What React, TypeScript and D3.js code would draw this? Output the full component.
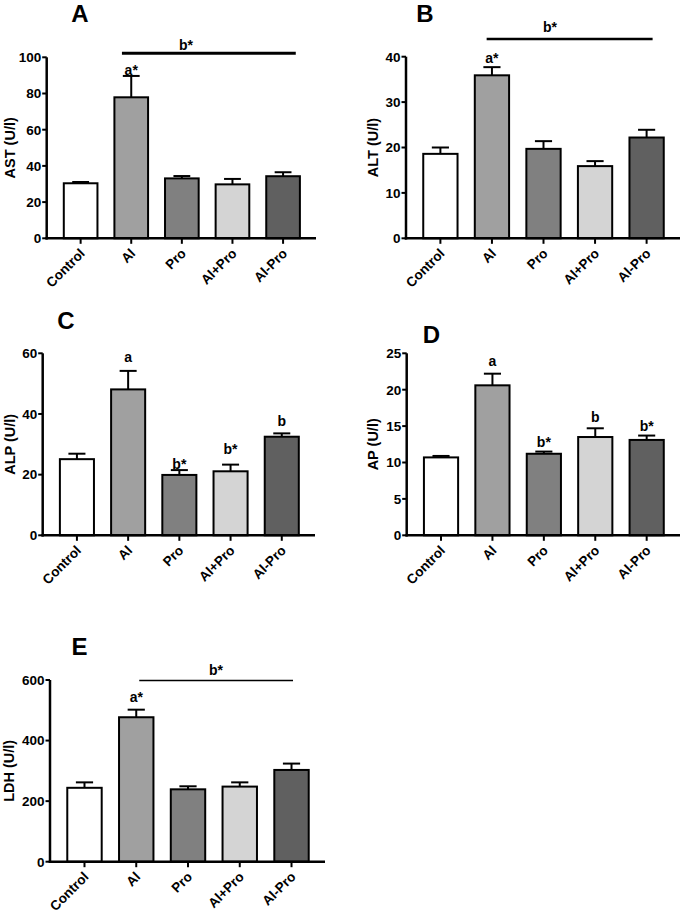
import React from "react";
import * as d3 from "d3";

const groups = ["Control", "Al", "Pro", "Al+Pro", "Al-Pro"];
const fills = ["#ffffff", "#a0a0a0", "#808080", "#d4d4d4", "#606060"];

const astMean = [30.4, 77.9, 33.1, 29.8, 34.3];
const astErr = [0.7, 11.8, 1.3, 3.0, 2.2];
const astSig = ["", "a*", "", "", ""];
const astTicks = [0, 20, 40, 60, 80, 100];

const altMean = [18.6, 35.9, 19.7, 15.9, 22.2];
const altErr = [1.4, 1.8, 1.7, 1.1, 1.7];
const altSig = ["", "a*", "", "", ""];
const altTicks = [0, 10, 20, 30, 40];

const alpMean = [25.1, 48.1, 19.9, 21.1, 32.5];
const alpErr = [1.8, 6.1, 1.6, 2.2, 1.1];
const alpSig = ["", "a", "b*", "b*", "b"];
const alpTicks = [0, 20, 40, 60];

const apMean = [10.7, 20.6, 11.2, 13.5, 13.1];
const apErr = [0.2, 1.6, 0.3, 1.2, 0.6];
const apSig = ["", "a", "b*", "b", "b*"];
const apTicks = [0, 5, 10, 15, 20, 25];

const ldhMean = [244, 477, 239, 248, 303];
const ldhErr = [18, 25, 10, 14, 21];
const ldhSig = ["", "a*", "", "", ""];
const ldhTicks = [0, 200, 400, 600];

type Panel = {
  letter: string;
  title: string;
  mean: number[];
  err: number[];
  sig: string[];
  ticks: number[];
  max: number;
  axisX: number;
  axisEnd: number;
  yTop: number;
  y0: number;
  letterX: number;
  letterY: number;
  titleX: number;
  sigGap: number[];
  bracket?: { value: number; x0: number; x1: number; width: number; labelDy: number; labelX: number };
};

const panels: Panel[] = [
  {
    letter: "A", title: "AST (U/l)", mean: astMean, err: astErr, sig: astSig, ticks: astTicks, max: 100,
    axisX: 46.7, axisEnd: 316, yTop: 57.3, y0: 238.3, letterX: 80, letterY: 22, titleX: 15,
    sigGap: [0, 1, 0, 0, 0],
    bracket: { value: 102.2, x0: -9.3, x1: 12.7, width: 3, labelDy: -3, labelX: 186 },
  },
  {
    letter: "B", title: "ALT (U/l)", mean: altMean, err: altErr, sig: altSig, ticks: altTicks, max: 40,
    axisX: 406, axisEnd: 680, yTop: 56.7, y0: 238.3, letterX: 425, letterY: 22, titleX: 378,
    sigGap: [0, 4, 0, 0, 0],
    bracket: { value: 43.9, x0: -5.3, x1: 6, width: 2.5, labelDy: -7, labelX: 550 },
  },
  {
    letter: "C", title: "ALP (U/l)", mean: alpMean, err: alpErr, sig: alpSig, ticks: alpTicks, max: 60,
    axisX: 42.7, axisEnd: 315, yTop: 353.3, y0: 535.3, letterX: 66, letterY: 329, titleX: 15,
    sigGap: [0, 9.3, 1, 10.7, 7.3],
  },
  {
    letter: "D", title: "AP (U/l)", mean: apMean, err: apErr, sig: apSig, ticks: apTicks, max: 25,
    axisX: 406.7, axisEnd: 680, yTop: 353.3, y0: 535.3, letterX: 431.5, letterY: 343, titleX: 378,
    sigGap: [0, 7.3, 4.6, 6.3, 4.7],
  },
  {
    letter: "E", title: "LDH (U/l)", mean: ldhMean, err: ldhErr, sig: ldhSig, ticks: ldhTicks, max: 600,
    axisX: 50, axisEnd: 325, yTop: 680, y0: 861.7, letterX: 79.5, letterY: 655, titleX: 14,
    sigGap: [0, 8, 0, 0, 0],
    bracket: { value: 598, x0: 3, x1: 1.5, width: 1.5, labelDy: -6, labelX: 216 },
  },
];

const FONT = "'Liberation Sans', Arial, Helvetica, sans-serif";

function PanelChart({ p }: { p: Panel }) {
  const y = d3.scaleLinear().domain([0, p.max]).range([p.y0, p.yTop]);
  const x = d3
    .scaleBand<string>()
    .domain(groups)
    .range([p.axisX + 9, p.axisEnd - 8])
    .paddingInner(0.335)
    .paddingOuter(0.16);
  const bw = x.bandwidth();
  const cx = (g: string) => (x(g) as number) + bw / 2;
  const midY = (p.y0 + p.yTop) / 2;

  return (
    <g fontFamily={FONT} fontWeight="bold">
      <text x={p.letterX} y={p.letterY} fontSize={24} textAnchor="middle">
        {p.letter}
      </text>
      <text
        transform={`translate(${p.titleX},${midY}) rotate(-90)`}
        fontSize={14.5}
        textAnchor="middle"
      >
        {p.title}
      </text>
      {groups.map((g, i) => {
        const top = y(p.mean[i]);
        const et = y(p.mean[i] + p.err[i]);
        return (
          <g key={g}>
            <line x1={cx(g)} x2={cx(g)} y1={top} y2={et} stroke="#000" strokeWidth={2} />
            <line x1={cx(g) - bw / 4} x2={cx(g) + bw / 4} y1={et} y2={et} stroke="#000" strokeWidth={2} />
            <rect
              x={x(g)}
              y={top}
              width={bw}
              height={p.y0 - top}
              fill={fills[i]}
              stroke="#000"
              strokeWidth={2}
            />
            {p.sig[i] && (
              <text x={cx(g)} y={et - p.sigGap[i]} fontSize={14} textAnchor="middle">
                {p.sig[i]}
              </text>
            )}
          </g>
        );
      })}
      {/* y axis */}
      <line x1={p.axisX} x2={p.axisX} y1={p.yTop} y2={p.y0 + 1.25} stroke="#000" strokeWidth={2.5} />
      {p.ticks.map((t) => (
        <g key={t}>
          <line x1={p.axisX - 4.5} x2={p.axisX} y1={y(t)} y2={y(t)} stroke="#000" strokeWidth={2} />
          <text x={p.axisX - 5.5} y={y(t)} dy="0.36em" fontSize={13.5} textAnchor="end">
            {t}
          </text>
        </g>
      ))}
      {/* x axis */}
      <line x1={p.axisX - 1.25} x2={p.axisEnd} y1={p.y0} y2={p.y0} stroke="#000" strokeWidth={2.5} />
      {groups.map((g) => (
        <g key={"xt" + g}>
          <line x1={cx(g)} x2={cx(g)} y1={p.y0} y2={p.y0 + 5.5} stroke="#000" strokeWidth={2} />
          <text
            transform={`translate(${cx(g) + 5},${p.y0 + 16}) rotate(-45)`}
            fontSize={13.5}
            textAnchor="end"
          >
            {g}
          </text>
        </g>
      ))}
      {p.bracket && (
        <g>
          <line
            x1={cx(groups[1]) + p.bracket.x0}
            x2={cx(groups[4]) + p.bracket.x1}
            y1={y(p.bracket.value)}
            y2={y(p.bracket.value)}
            stroke="#000"
            strokeWidth={p.bracket.width}
          />
          <text
            x={p.bracket.labelX}
            y={y(p.bracket.value) + p.bracket.labelDy}
            fontSize={14}
            textAnchor="middle"
          >
            b*
          </text>
        </g>
      )}
    </g>
  );
}

export default function App() {
  return (
    <svg
      width={685}
      height={914}
      style={{ position: "absolute", left: 0, top: 0, background: "#fff" }}
    >
      <rect width={685} height={914} fill="#fff" />
      {panels.map((p) => (
        <PanelChart key={p.letter} p={p} />
      ))}
    </svg>
  );
}
